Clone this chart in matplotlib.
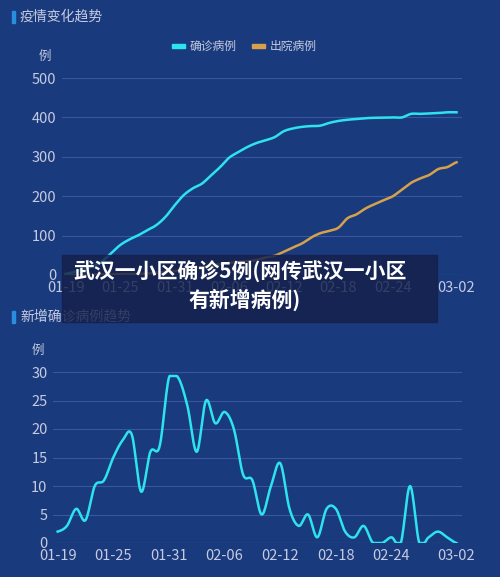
import numpy as np
import matplotlib
matplotlib.use("Agg")
import matplotlib.pyplot as plt
from matplotlib.patches import Rectangle

plt.rcParams['font.family'] = ['Noto Sans CJK SC', 'DejaVu Sans']

dates = ["01-19","01-25","01-31","02-06","02-12","02-18","02-24","03-02"]
tick_days = [0, 6, 12, 18, 24, 30, 36, 43]
confirmed = [3,8,15,22,35,55,76,90,101,114,127,148,177,203,220,232,253,274,298,312,325,335,342,350,
             365,372,376,378,379,386,391,394,396,398,399,399,400,400,409,409,410,411,413,413]
discharged = [0,0,0,1,1,2,2,2,3,4,6,8,10,13,17,20,24,28,31,33,35,38,45,49,
              59,70,80,95,106,112,120,144,154,169,180,190,200,217,234,245,254,269,274,286]
new_cases = [2,3,6,4,10,11,15,18,19,9,16,17,29,29,24,16,25,21,23,20,12,11,5,10,
             14,6,3,5,1,6,6,2,1,3,0,0,1,0,10,0,1,2,1,0]

BG = "#1a3a7e"
TXT = "#c5cbe0"
CYAN = "#2de3ee"
ORANGE = "#d6a14a"
W, H = 500, 577

def smooth(y, n=12):
    y = np.asarray(y, float)
    p = np.concatenate([[y[0]], y, [y[-1]]])
    xs, ys = [], []
    for i in range(1, len(p) - 2):
        t = np.linspace(0, 1, n, endpoint=False)
        p0, p1, p2, p3 = p[i-1], p[i], p[i+1], p[i+2]
        v = 0.5*((2*p1) + (-p0+p2)*t + (2*p0-5*p1+4*p2-p3)*t**2 + (-p0+3*p1-3*p2+p3)*t**3)
        xs.append(i - 1 + t); ys.append(v)
    xs.append([len(y)-1]); ys.append([y[-1]])
    return np.concatenate(xs), np.concatenate(ys)

fig = plt.figure(figsize=(W/100, H/100), dpi=100, facecolor=BG)

def ax_px(l, t, r, b):
    return fig.add_axes([l/W, 1-b/H, (r-l)/W, (b-t)/H])

def style(ax, ymax, step):
    ax.set_facecolor(BG)
    for s in ax.spines.values():
        s.set_visible(False)
    ax.set_ylim(0, ymax)
    ax.set_yticks(np.arange(0, ymax+1, step))
    ax.grid(axis='y', color="#3a56a0", lw=0.8)
    ax.set_axisbelow(True)
    ax.tick_params(colors=TXT, labelsize=10.5, length=0, pad=4)
    ax.set_xticks(tick_days)
    ax.set_xticklabels(dates)
    ax.axhline(0, color="#4a64aa", lw=0.8)

def bar(y):
    fig.add_artist(Rectangle((12/W, 1-(y+6)/H), 3/W, 12/H, color="#2a8ee0",
                             transform=fig.transFigure))

# top chart
ax1 = ax_px(62, 78, 462, 275)
ax1.set_xlim(-0.4, 43.6)
style(ax1, 500, 100)
sx, sy = smooth(confirmed, 6)
ax1.plot(sx, sy, color=CYAN, lw=1.8)
sx, sy = smooth(discharged, 6)
ax1.plot(sx, sy, color=ORANGE, lw=1.8)
bar(17)
fig.text(20/W, 1-17/H, "疫情变化趋势", color=TXT, fontsize=10, va='center')
fig.text(45/W, 1-56/H, "例", color=TXT, fontsize=9, va='center', ha='center')
fig.add_artist(Rectangle((172/W, 1-48/H), 13/W, 4/H, color=CYAN, transform=fig.transFigure))
fig.text(190/W, 1-46/H, "确诊病例", color=TXT, fontsize=8.5, va='center')
fig.add_artist(Rectangle((252/W, 1-48/H), 13/W, 4/H, color=ORANGE, transform=fig.transFigure))
fig.text(270/W, 1-46/H, "出院病例", color=TXT, fontsize=8.5, va='center')

# bottom chart
ax2 = ax_px(53, 372, 462, 543)
ax2.set_xlim(-0.5, 43.6)
style(ax2, 30, 5)
sx, sy = smooth(new_cases, 14)
ax2.plot(sx, np.clip(sy, 0, 29.3), color=CYAN, lw=1.8)
bar(317)
fig.text(20/W, 1-317/H, "新增确诊病例趋势", color=TXT, fontsize=10, va='center')
fig.text(38/W, 1-350/H, "例", color=TXT, fontsize=9, va='center', ha='center')

# caption overlay
fig.add_artist(Rectangle((62/W, 1-322/H), 375/W, 67/H, color="#14204a", alpha=0.82,
                         transform=fig.transFigure, zorder=10))
fig.text(240/W, 1-272/H, "武汉一小区确诊5例(网传武汉一小区", color="white", fontsize=15,
         fontweight='bold', ha='center', va='center', zorder=11)
fig.text(245/W, 1-300/H, "有新增病例)", color="white", fontsize=15,
         fontweight='bold', ha='center', va='center', zorder=11)

fig.savefig("out.png", dpi=100, facecolor=BG)
